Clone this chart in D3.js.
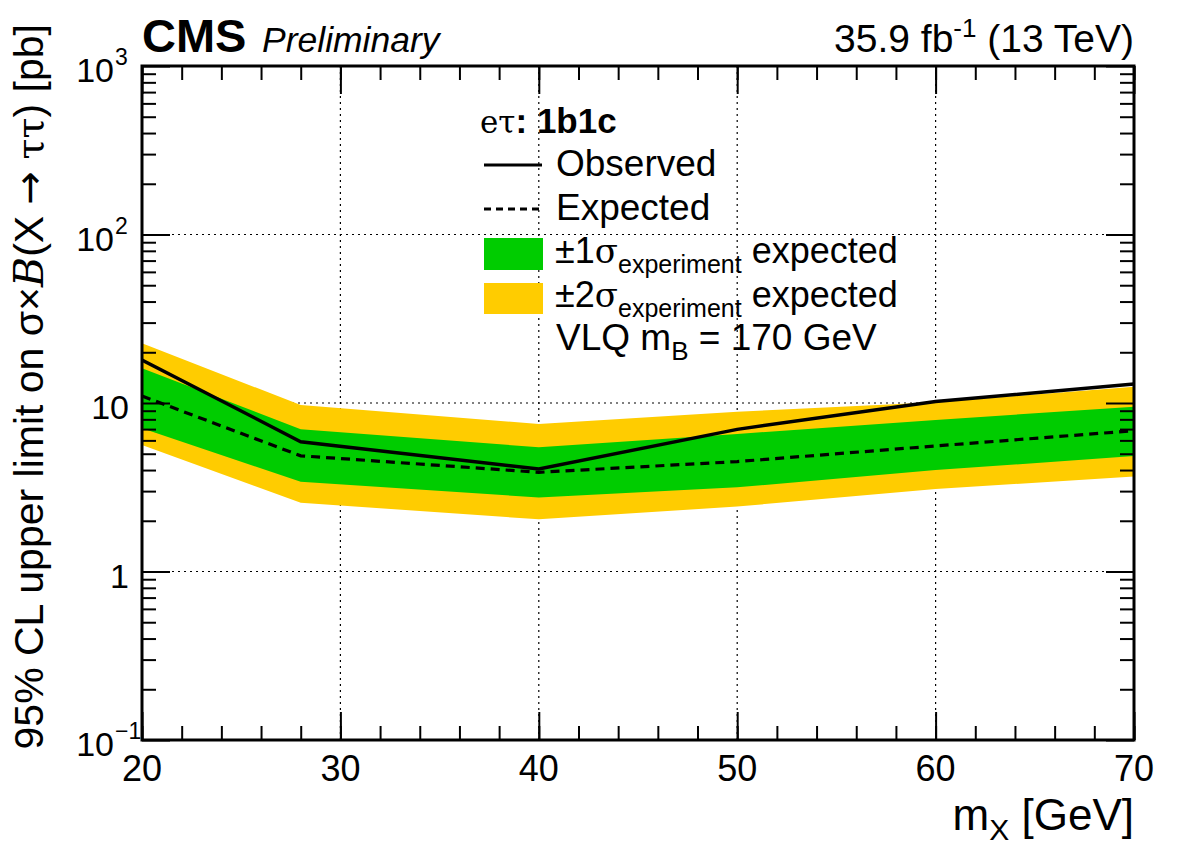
<!DOCTYPE html>
<html>
<head>
<meta charset="utf-8">
<script src="https://cdn.jsdelivr.net/npm/d3@7"></script>
<style>
  body { margin: 0; background: #fff; }
  text { font-family: "Liberation Sans", Arial, Helvetica, sans-serif; fill: #000; }
</style>
</head>
<body>
<svg id="chart" width="1182" height="848"></svg>
<script>
// mass points [GeV]
var massPoints = [20, 28, 40, 50, 60, 70];
// limits [pb]
var observed = [18.0, 5.89, 4.06, 6.98, 10.2, 12.96];
var expected = [11.0, 4.86, 3.88, 4.49, 5.56, 6.85];
var up1Sigma = [16.1, 6.98, 5.46, 6.55, 7.93, 9.51];
var down1Sigma = [7.08, 3.41, 2.75, 3.16, 4.00, 4.84];
var up2Sigma = [22.6, 9.73, 7.50, 8.88, 10.1, 12.5];
var down2Sigma = [5.63, 2.56, 2.04, 2.43, 3.09, 3.66];

var xTicks = [20, 30, 40, 50, 60, 70];
var yDecades = [0.1, 1, 10, 100, 1000];
var yTickLabels = [["10", "\u22121"], ["1", null], ["10", null], ["10", "2"], ["10", "3"]];

var pLeft = 142, pRight = 1134, pTop = 66, pBottom = 740;
var svg = d3.select("#chart");

var x = d3.scaleLinear().domain([20, 70]).range([pLeft, pRight]);
var y = d3.scaleLog().domain([0.1, 1000]).range([pBottom, pTop]);

var pts = massPoints.map(function (m, i) {
    return {m: m, obs: observed[i], exp: expected[i], u1: up1Sigma[i], d1: down1Sigma[i], u2: up2Sigma[i], d2: down2Sigma[i]};
});

svg.append("clipPath").attr("id", "plotClip")
    .append("rect").attr("x", pLeft).attr("y", pTop).attr("width", pRight - pLeft).attr("height", pBottom - pTop);

var plot = svg.append("g").attr("clip-path", "url(#plotClip)");

// grid
plot.selectAll(".gx").data(xTicks.slice(1, -1)).enter().append("line")
    .attr("x1", function (d) { return x(d); }).attr("x2", function (d) { return x(d); })
    .attr("y1", pTop).attr("y2", pBottom)
    .attr("stroke", "#000").attr("stroke-width", 1.2).attr("stroke-dasharray", "2,4");
plot.selectAll(".gy").data([1, 10, 100]).enter().append("line")
    .attr("y1", function (d) { return y(d); }).attr("y2", function (d) { return y(d); })
    .attr("x1", pLeft).attr("x2", pRight)
    .attr("stroke", "#000").attr("stroke-width", 1.2).attr("stroke-dasharray", "2,4");

// bands
var band2 = d3.area().x(function (d) { return x(d.m); })
    .y0(function (d) { return y(d.d2); }).y1(function (d) { return y(d.u2); });
var band1 = d3.area().x(function (d) { return x(d.m); })
    .y0(function (d) { return y(d.d1); }).y1(function (d) { return y(d.u1); });
plot.append("path").datum(pts).attr("d", band2).attr("fill", "#ffcc00");
plot.append("path").datum(pts).attr("d", band1).attr("fill", "#00cc00");

var expLine = d3.line().x(function (d) { return x(d.m); }).y(function (d) { return y(d.exp); });
var obsLine = d3.line().x(function (d) { return x(d.m); }).y(function (d) { return y(d.obs); });
plot.append("path").datum(pts).attr("d", expLine).attr("fill", "none")
    .attr("stroke", "#000").attr("stroke-width", 3.2).attr("stroke-dasharray", "9,6");
plot.append("path").datum(pts).attr("d", obsLine).attr("fill", "none")
    .attr("stroke", "#000").attr("stroke-width", 3.4);

// ticks
var xMinor = d3.range(20, 70.01, 2);
var yMinor = [];
[0.1, 1, 10, 100].forEach(function (dec) {
    for (var k = 2; k <= 9; k++) yMinor.push(dec * k);
});

function tickAxis(axis, pos, vals, size) {
    svg.append("g").attr("transform", pos)
        .call(axis.tickValues(vals).tickSize(size).tickFormat(""))
        .call(function (g) { g.select(".domain").remove(); })
        .selectAll("line").attr("stroke", "#000").attr("stroke-width", 2);
}
tickAxis(d3.axisBottom(x), "translate(0," + pBottom + ")", xMinor, -14);
tickAxis(d3.axisBottom(x), "translate(0," + pBottom + ")", xTicks, -28);
tickAxis(d3.axisTop(x), "translate(0," + pTop + ")", xMinor, -14);
tickAxis(d3.axisTop(x), "translate(0," + pTop + ")", xTicks, -28);
tickAxis(d3.axisLeft(y), "translate(" + pLeft + ",0)", yMinor, -14);
tickAxis(d3.axisLeft(y), "translate(" + pLeft + ",0)", yDecades, -28);
tickAxis(d3.axisRight(y), "translate(" + pRight + ",0)", yMinor, -14);
tickAxis(d3.axisRight(y), "translate(" + pRight + ",0)", yDecades, -28);

// frame
svg.append("rect").attr("x", pLeft).attr("y", pTop).attr("width", pRight - pLeft).attr("height", pBottom - pTop)
    .attr("fill", "none").attr("stroke", "#000").attr("stroke-width", 3);

// tick labels
svg.selectAll(".xl").data(xTicks).enter().append("text")
    .attr("x", function (d) { return x(d); }).attr("y", 781)
    .attr("text-anchor", "middle").attr("font-size", 36).text(function (d) { return d; });

yDecades.forEach(function (d, i) {
    var lab = yTickLabels[i];
    svg.append("text").attr("x", lab[1] ? 114 : 129).attr("y", y(d) + 16)
        .attr("text-anchor", "end").attr("font-size", 34).text(lab[0]);
    if (lab[1]) {
        svg.append("text").attr("x", 115).attr("y", y(d) - 1).attr("font-size", 23).text(lab[1]);
    }
});

// axis titles
var xt = svg.append("text").attr("x", pRight).attr("y", 830).attr("text-anchor", "end").attr("font-size", 44);
xt.append("tspan").text("m");
xt.append("tspan").attr("font-size", 30).attr("dy", 10).text("X");
xt.append("tspan").attr("dy", -10).text(" [GeV]");

var yt = svg.append("text").attr("transform", "translate(43,24) rotate(-90)")
    .attr("text-anchor", "end").attr("font-size", 41);
yt.append("tspan").text("95% CL upper limit on \u03c3\u00d7");
yt.append("tspan").attr("font-family", "'DejaVu Serif', serif").attr("font-style", "italic").text("B");
yt.append("tspan").text("(X ");
yt.append("tspan").attr("font-family", "'DejaVu Sans', sans-serif").attr("font-size", 40).text("\u2192");
yt.append("tspan").text(" ");
yt.append("tspan").attr("font-family", "'DejaVu Serif', serif").attr("font-size", 38).text("\u03c4\u03c4");
yt.append("tspan").text(") [pb]");

// header
svg.append("text").attr("x", pLeft).attr("y", 52).attr("font-size", 47).attr("font-weight", "bold").text("CMS");
svg.append("text").attr("x", 262).attr("y", 52).attr("font-size", 35.5).attr("font-style", "italic").text("Preliminary");
var lumi = svg.append("text").attr("x", pRight).attr("y", 52).attr("text-anchor", "end").attr("font-size", 39);
lumi.append("tspan").text("35.9 fb");
lumi.append("tspan").attr("font-size", 26).attr("dy", -15).text("-1");
lumi.append("tspan").attr("dy", 15).text(" (13 TeV)");

// legend
var lg = svg.append("g");
var head = lg.append("text").attr("x", 480).attr("y", 133).attr("font-size", 35);
head.append("tspan").attr("font-family", "'DejaVu Serif', serif").attr("font-size", 31).text("e\u03c4");
head.append("tspan").attr("font-weight", "bold").text(": 1b1c");

lg.append("line").attr("x1", 484).attr("x2", 542).attr("y1", 165).attr("y2", 165)
    .attr("stroke", "#000").attr("stroke-width", 3);
lg.append("text").attr("x", 556).attr("y", 176).attr("font-size", 37).text("Observed");
lg.append("line").attr("x1", 484).attr("x2", 542).attr("y1", 209).attr("y2", 209)
    .attr("stroke", "#000").attr("stroke-width", 3).attr("stroke-dasharray", "7,5");
lg.append("text").attr("x", 556).attr("y", 220).attr("font-size", 37).text("Expected");

lg.append("rect").attr("x", 484).attr("y", 238).attr("width", 59).attr("height", 32).attr("fill", "#00cc00");
lg.append("rect").attr("x", 484).attr("y", 283).attr("width", 59).attr("height", 31).attr("fill", "#ffcc00");

[[263, "\u00b11"], [307, "\u00b12"]].forEach(function (r) {
    var t = lg.append("text").attr("x", 555).attr("y", r[0]).attr("font-size", 36);
    t.append("tspan").text(r[1]);
    t.append("tspan").attr("font-family", "'DejaVu Serif', serif").attr("font-size", 34).text("\u03c3");
    t.append("tspan").attr("font-size", 25).attr("dy", 10).text("experiment");
    t.append("tspan").attr("dy", -10).text(" expected");
});
var vlq = lg.append("text").attr("x", 556).attr("y", 350).attr("font-size", 37);
vlq.append("tspan").text("VLQ m");
vlq.append("tspan").attr("font-size", 26).attr("dy", 10).text("B");
vlq.append("tspan").attr("dy", -10).text(" = 170 GeV");
</script>
</body>
</html>
